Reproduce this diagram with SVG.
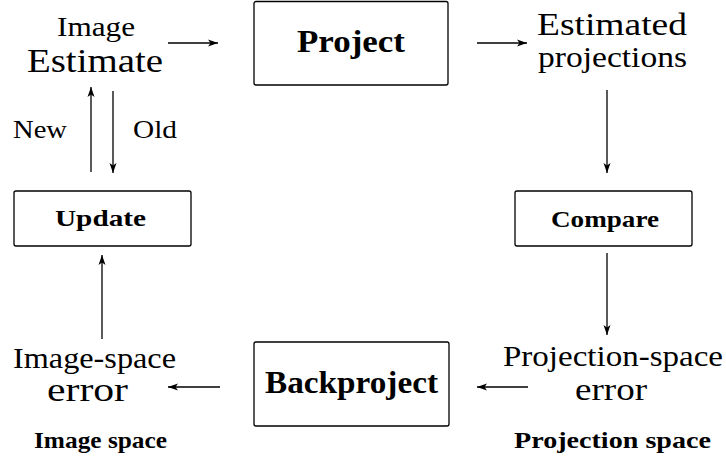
<svg xmlns="http://www.w3.org/2000/svg" width="726" height="461" viewBox="0 0 726 461">
<style>
.box{fill:#fff;stroke:#000;stroke-width:1.3}
text{font-family:'Liberation Serif','DejaVu Serif',serif;fill:#000;font-weight:normal}
text.b{font-weight:bold}
.c{fill:none;stroke:#000;stroke-width:1.3;marker-end:url(#ah)}
</style>
<defs>
<marker id="ah" markerUnits="userSpaceOnUse" markerWidth="11" markerHeight="9" refX="10" refY="4.5" orient="auto">
<path d="M0,1 L10,4.5 L0,8 L2.5,4.5 Z" fill="#000"/>
</marker>
</defs>
<g id="connectors">
<line class="c" x1="168" y1="43" x2="218" y2="43"/>
<line class="c" x1="477" y1="43" x2="527" y2="43"/>
<line class="c" x1="607" y1="90" x2="607" y2="173"/>
<line class="c" x1="607" y1="253" x2="607" y2="335"/>
<line class="c" x1="528" y1="387" x2="477" y2="387"/>
<line class="c" x1="220" y1="387" x2="168" y2="387"/>
<line class="c" x1="102" y1="339" x2="102" y2="255"/>
<line class="c" x1="91" y1="172" x2="91" y2="87"/>
<line class="c" x1="113" y1="91" x2="113" y2="173"/>
<text x="13" y="138" font-family="Liberation Serif" font-size="26" textLength="54" lengthAdjust="spacingAndGlyphs">New</text>
<text x="133" y="138" font-family="Liberation Serif" font-size="26" textLength="44" lengthAdjust="spacingAndGlyphs">Old</text>
</g>
<g id="image-estimate">
<text x="57" y="36" font-family="Liberation Serif" font-size="28" textLength="78" lengthAdjust="spacingAndGlyphs">Image</text>
<text x="27" y="72" font-family="Liberation Serif" font-size="33" textLength="136" lengthAdjust="spacingAndGlyphs">Estimate</text>
</g>
<g id="project">
<rect class="box" x="254" y="1.5" width="194" height="83.5" rx="2"/>
<text class="b" x="297" y="52" font-family="Liberation Serif" font-size="32" textLength="108" lengthAdjust="spacingAndGlyphs">Project</text>
</g>
<g id="estimated-projections">
<text x="537" y="35" font-family="Liberation Serif" font-size="32" textLength="150" lengthAdjust="spacingAndGlyphs">Estimated</text>
<text x="538" y="67" font-family="Liberation Serif" font-size="30" textLength="149" lengthAdjust="spacingAndGlyphs">projections</text>
</g>
<g id="compare">
<rect class="box" x="515" y="191" width="177" height="55" rx="2"/>
<text class="b" x="551" y="227" font-family="Liberation Serif" font-size="24" textLength="108" lengthAdjust="spacingAndGlyphs">Compare</text>
</g>
<g id="projection-space-error">
<text x="503" y="366" font-family="Liberation Serif" font-size="30" textLength="220" lengthAdjust="spacingAndGlyphs">Projection-space</text>
<text x="575" y="400" font-family="Liberation Serif" font-size="32" textLength="72" lengthAdjust="spacingAndGlyphs">error</text>
</g>
<g id="backproject">
<rect class="box" x="254" y="342" width="195" height="84" rx="2"/>
<text class="b" x="265" y="393" font-family="Liberation Serif" font-size="31" textLength="173" lengthAdjust="spacingAndGlyphs">Backproject</text>
</g>
<g id="image-space-error">
<text x="13" y="368" font-family="Liberation Serif" font-size="30" textLength="163" lengthAdjust="spacingAndGlyphs">Image-space</text>
<text x="47" y="401" font-family="Liberation Serif" font-size="34" textLength="81" lengthAdjust="spacingAndGlyphs">error</text>
</g>
<g id="update">
<rect class="box" x="14" y="191" width="177" height="55" rx="2"/>
<text class="b" x="55" y="226" font-family="Liberation Serif" font-size="24" textLength="91" lengthAdjust="spacingAndGlyphs">Update</text>
</g>
<g id="image-space-label">
<text class="b" x="34" y="448" font-family="Liberation Serif" font-size="24" textLength="133" lengthAdjust="spacingAndGlyphs">Image space</text>
</g>
<g id="projection-space-label">
<text class="b" x="514" y="448" font-family="Liberation Serif" font-size="24" textLength="197" lengthAdjust="spacingAndGlyphs">Projection space</text>
</g>
</svg>
